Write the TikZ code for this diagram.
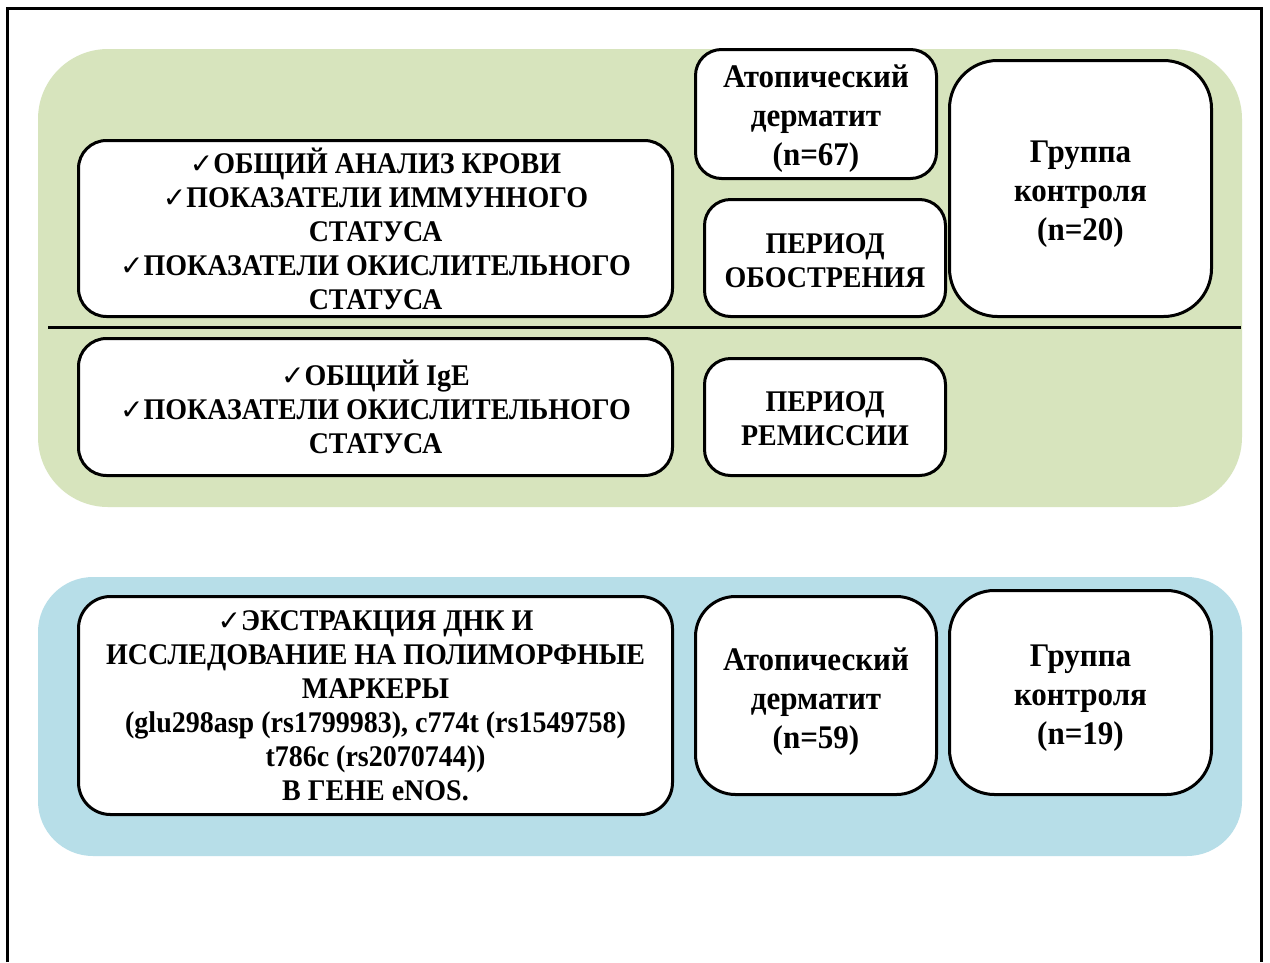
\documentclass[tikz,border=0pt]{standalone}
\usepackage{fontspec}
\setmainfont{Liberation Serif}[FakeStretch=0.933]
\newfontfamily\groupfont{Liberation Serif}[FakeStretch=0.94]
\newfontfamily\marksfont{DejaVu Sans}
\newcommand{\chk}{{\marksfont\fontsize{28}{28}\selectfont\char"2713}}
\definecolor{panelgreen}{HTML}{D7E4BD}
\definecolor{panelblue}{HTML}{B7DEE8}
\tikzset{
  card/.style={draw=black, line width=3pt, fill=white, align=center,
    inner sep=0pt, rounded corners=28pt},
  listtext/.style={font=\bfseries\fontsize{30}{34}\selectfont},
  grouptext/.style={align=center, inner sep=0pt,
    font=\groupfont\bfseries\fontsize{33}{39}\selectfont},
}
\begin{document}
\begin{tikzpicture}[x=1pt,y=-1pt]
\useasboundingbox (0,0) rectangle (1270,962);
\fill[white] (0,0) rectangle (1270,962);
% frame open at the bottom
\draw[line width=3pt] (7.5,962) -- (7.5,8.5) -- (1261.5,8.5) -- (1261.5,962);
% background panels
\fill[panelgreen, rounded corners=70pt] (38,49) rectangle (1242,507);
\fill[panelblue, rounded corners=55pt] (38,577) rectangle (1242,856);
% divider between exacerbation and remission
\coordinate (divL) at (48,327);
\coordinate (divR) at (1241,327);
\draw[line width=3pt] (divL) -- (divR);

% upper panel
\node[card, listtext, minimum width=594pt, minimum height=176pt] (blood) at (375.5,228.5)
  {\chk ОБЩИЙ АНАЛИЗ КРОВИ\\ \chk ПОКАЗАТЕЛИ ИММУННОГО\\ СТАТУСА\\[0pt]
   \chk ПОКАЗАТЕЛИ ОКИСЛИТЕЛЬНОГО\\ СТАТУСА};
\node[card, rounded corners=26pt, minimum width=241pt, minimum height=129pt,
  label={[grouptext, yshift=-5pt]center:{Атопический\\ дерматит\\ (n=67)}}] (ad67) at (816,114) {};
\node[card, listtext, rounded corners=26pt, minimum width=241pt, minimum height=117pt,
  label={[listtext, align=center, inner sep=0pt, yshift=-3pt]center:{ПЕРИОД\\ ОБОСТРЕНИЯ}}] (acute) at (825,258) {};
\node[card, rounded corners=48pt, minimum width=262pt, minimum height=256pt,
  label={[grouptext, yshift=-6pt]center:{Группа\\ контроля\\ (n=20)}}] (ctrl20) at (1080.5,188.5) {};
\node[card, listtext, minimum width=594pt, minimum height=137pt] (ige) at (375.5,407)
  {\chk ОБЩИЙ IgE\\ \chk ПОКАЗАТЕЛИ ОКИСЛИТЕЛЬНОГО\\ СТАТУСА};
\node[card, rounded corners=26pt, minimum width=241pt, minimum height=117pt,
  label={[listtext, align=center, inner sep=0pt, yshift=-2pt]center:{ПЕРИОД\\ РЕМИССИИ}}] (remis) at (825,417) {};

% lower panel
\node[card, listtext, rounded corners=32pt, minimum width=594pt, minimum height=218pt] (dna) at (375.5,705.5)
  {\chk ЭКСТРАКЦИЯ ДНК И\\ ИССЛЕДОВАНИЕ НА ПОЛИМОРФНЫЕ\\ МАРКЕРЫ\\
   (glu298asp (rs1799983), c774t (rs1549758)\\ t786c (rs2070744))\\ В ГЕНЕ eNOS.};
\node[card, rounded corners=40pt, minimum width=241pt, minimum height=198pt,
  label={[grouptext, yshift=-6pt]center:{Атопический\\ дерматит\\ (n=59)}}] (ad59) at (816,695.5) {};
\node[card, rounded corners=45pt, minimum width=262pt, minimum height=204pt,
  label={[grouptext, yshift=-6pt]center:{Группа\\ контроля\\ (n=19)}}] (ctrl19) at (1080.5,692.5) {};
\end{tikzpicture}
\end{document}
